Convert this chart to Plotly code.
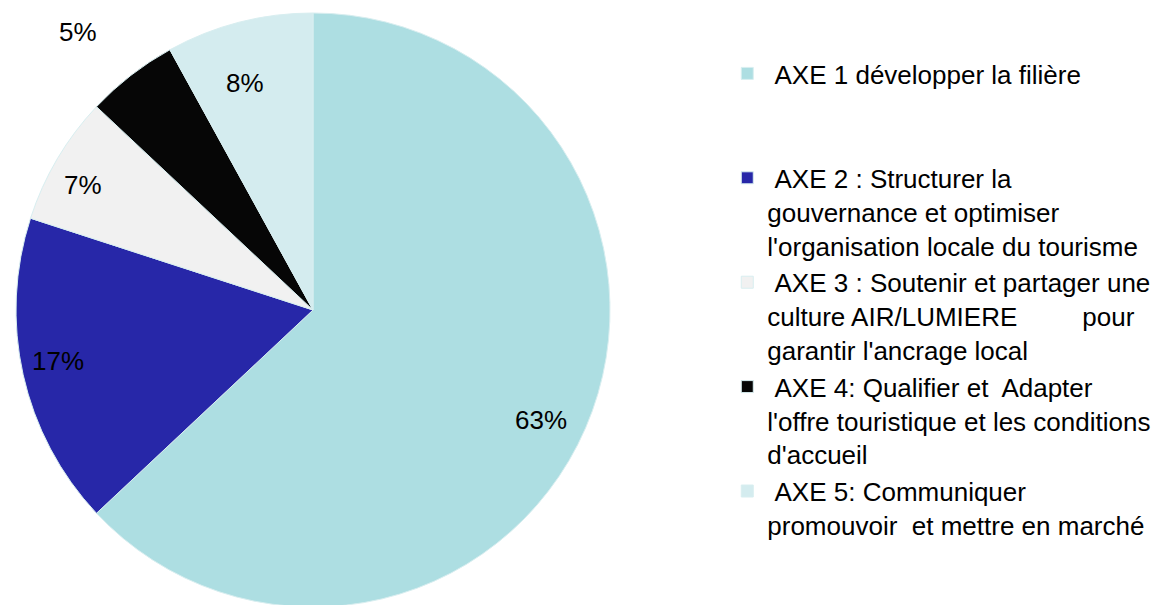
import math
import plotly.graph_objects as go

NB = "\u00a0"
labels = [
    NB + "AXE 1 développer la filière<br> <br> ",
    NB + "AXE 2 : Structurer la<br>gouvernance et optimiser<br>l'organisation locale du tourisme",
    NB + "AXE 3 : Soutenir et partager une<br>culture AIR/LUMIERE" + NB * 8 + " pour<br>garantir l'ancrage local",
    NB + "AXE 4: Qualifier et" + NB + " Adapter<br>l'offre touristique et les conditions<br>d'accueil",
    NB + "AXE 5: Communiquer<br>promouvoir" + NB + " et mettre en marché",
]
values = [63, 17, 7, 5, 8]
pct_text = ["63%", "17%", "7%", "5%", "8%"]
colors = ["#ADDEE2", "#2727A8", "#F1F1F1", "#060606", "#D4ECEF"]

# label placement styles
radial = [0.85, 0.88, 0.88, 1.2, 0.79]
shifts = [(-4, -10), (0, 6), (-5, -8), (-17, -4), (-10, 0)]

W, H = 1162, 605
mt, mb = 5, 6
cx, cy = 305, 302
R = (H - mt - mb) / 2

fig = go.Figure(go.Pie(
    labels=labels,
    values=values,
    sort=False,
    direction="clockwise",
    rotation=0,
    marker=dict(colors=colors, line=dict(color="#d8eef0", width=1)),
    textinfo="none",
    hoverinfo="label+percent",
    domain=dict(x=[(cx - R - 2) / W, (cx + R + 2) / W], y=[0, 1]),
))

total = sum(values)
cum = 0
for v, t, f, (dx, dy) in zip(values, pct_text, radial, shifts):
    mid = (cum + v / 2) / total * 2 * math.pi
    cum += v
    px = cx + R * f * math.sin(mid)
    py = cy - R * f * math.cos(mid)
    fig.add_annotation(
        x=px / W, y=(H - mb - py) / (H - mt - mb), xref="paper", yref="paper",
        xanchor="center", yanchor="middle",
        text=t, showarrow=False, xshift=dx, yshift=dy,
        font=dict(family="Liberation Sans, Arial", size=26, color="#000000"),
    )

fig.update_layout(
    width=W, height=H,
    margin=dict(l=0, r=0, t=mt, b=mb),
    paper_bgcolor="white",
    plot_bgcolor="white",
    showlegend=True,
    legend=dict(
        x=0.619, xanchor="left", y=0.9377, yanchor="top",
        valign="top",
        font=dict(family="Liberation Sans, Arial", size=26, color="#000000"),
        bgcolor="rgba(0,0,0,0)",
    ),
)

fig.write_html("out.html")
